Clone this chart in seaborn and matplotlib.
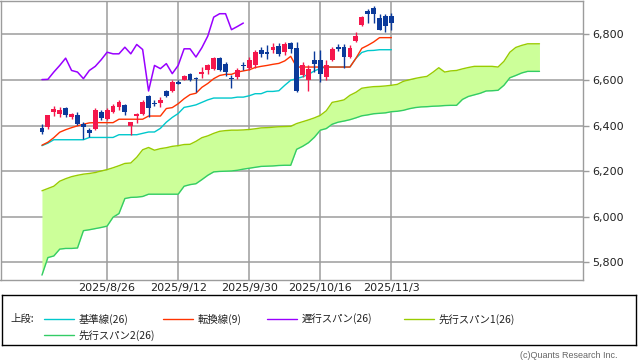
import numpy as np
import pandas as pd
import matplotlib
matplotlib.use("Agg")
import matplotlib.pyplot as plt
import seaborn as sns

# ---------------- data ----------------
date_labels = ["2025/8/26", "2025/9/12", "2025/9/30", "2025/10/16", "2025/11/3"]
date_index = [11, 23, 35, 47, 59]
y_ticks = [5800, 6000, 6200, 6400, 6600, 6800]

open_ = [6390, 6394, 6460, 6450, 6477, 6438, 6445, 6409, 6380, 6383,
         6460, 6431, 6460, 6482, 6489, 6397, 6441, 6453, 6528, 6499,
         6499, 6552, 6552, 6591, 6599, 6625, 6609, 6628, 6642, 6650,
         6696, 6669, 6610, 6613, 6667, 6652, 6664, 6730, 6722, 6733,
         6749, 6722, 6762, 6742, 6620, 6599, 6689, 6689, 6613, 6686,
         6744, 6744, 6701, 6771, 6843, 6902, 6917, 6874, 6879, 6883]
high = [6406, 6447, 6485, 6482, 6482, 6455, 6460, 6416, 6391, 6479,
        6467, 6479, 6493, 6511, 6496, 6418, 6455, 6511, 6533, 6511,
        6525, 6558, 6599, 6602, 6620, 6631, 6613, 6657, 6672, 6701,
        6701, 6679, 6620, 6651, 6677, 6699, 6730, 6743, 6752, 6761,
        6761, 6765, 6769, 6765, 6677, 6664, 6727, 6730, 6686, 6747,
        6759, 6756, 6752, 6810, 6883, 6913, 6927, 6888, 6888, 6892]
low = [6365, 6384, 6441, 6438, 6438, 6431, 6401, 6340, 6348, 6380,
       6426, 6423, 6455, 6467, 6445, 6358, 6412, 6445, 6438, 6485,
       6482, 6525, 6547, 6581, 6598, 6595, 6547, 6610, 6625, 6642,
       6639, 6616, 6567, 6603, 6642, 6642, 6651, 6699, 6694, 6717,
       6704, 6708, 6717, 6549, 6612, 6552, 6635, 6591, 6599, 6682,
       6727, 6654, 6695, 6769, 6839, 6850, 6850, 6818, 6810, 6821]
close = [6372, 6445, 6475, 6470, 6445, 6450, 6406, 6394, 6368, 6467,
         6435, 6467, 6485, 6504, 6460, 6416, 6450, 6504, 6479, 6493,
         6514, 6530, 6591, 6584, 6616, 6602, 6603, 6635, 6664, 6696,
         6642, 6635, 6606, 6642, 6660, 6689, 6722, 6715, 6715, 6744,
         6715, 6756, 6734, 6552, 6664, 6650, 6672, 6628, 6664, 6737,
         6737, 6701, 6742, 6793, 6876, 6891, 6891, 6821, 6835, 6850]

tenkan = [6314, 6327, 6347, 6371, 6382, 6391, 6399, 6406, 6412, 6413,
          6413, 6413, 6413, 6428, 6428, 6428, 6428, 6428, 6442, 6442,
          6442, 6475, 6479, 6496, 6518, 6536, 6542, 6568, 6585, 6606,
          6620, 6625, 6625, 6635, 6640, 6645, 6655, 6660, 6664, 6669,
          6673, 6684, 6704, 6657, 6657, 6657, 6657, 6657, 6657, 6657,
          6657, 6657, 6657, 6695, 6739, 6752, 6767, 6786, 6786, 6786]
kijun = [6312, 6323, 6338, 6338, 6338, 6338, 6338, 6338, 6348, 6348,
         6348, 6348, 6348, 6360, 6360, 6360, 6360, 6366, 6372, 6372,
         6388, 6415, 6436, 6453, 6480, 6485, 6491, 6502, 6513, 6521,
         6521, 6521, 6521, 6525, 6525, 6531, 6540, 6540, 6550, 6550,
         6553, 6577, 6599, 6606, 6614, 6625, 6640, 6651, 6657, 6657,
         6657, 6657, 6657, 6695, 6721, 6729, 6730, 6733, 6733, 6733]
span1 = [6114, 6124, 6134, 6156, 6167, 6176, 6182, 6187, 6190, 6194,
         6201, 6207, 6215, 6224, 6234, 6236, 6261, 6294, 6304, 6292,
         6299, 6303, 6309, 6312, 6317, 6318, 6331, 6347, 6355, 6366,
         6375, 6378, 6380, 6380, 6381, 6383, 6386, 6390, 6391, 6393,
         6395, 6396, 6397, 6409, 6417, 6425, 6434, 6445, 6465, 6502,
         6507, 6513, 6533, 6546, 6564, 6568, 6571, 6572, 6574, 6577,
         6581, 6594, 6601, 6607, 6612, 6616, 6634, 6654, 6635, 6640,
         6642, 6649, 6655, 6660, 6660, 6660, 6660, 6657, 6682, 6722,
         6743, 6752, 6759, 6759, 6759]
span2 = [5744, 5821, 5828, 5858, 5861, 5861, 5863, 5939, 5943, 5948,
         5953, 5959, 5998, 6014, 6080, 6085, 6086, 6089, 6099, 6099,
         6099, 6099, 6099, 6099, 6134, 6141, 6145, 6163, 6182, 6197,
         6199, 6200, 6201, 6204, 6209, 6213, 6217, 6221, 6222, 6223,
         6225, 6226, 6226, 6296, 6309, 6325, 6349, 6380, 6387, 6406,
         6415, 6420, 6426, 6434, 6443, 6447, 6452, 6454, 6456, 6461,
         6463, 6467, 6474, 6479, 6482, 6483, 6485, 6486, 6488, 6489,
         6489, 6515, 6528, 6535, 6542, 6552, 6553, 6555, 6577, 6610,
         6620, 6631, 6638, 6638, 6638]
lag = 25  # chikou span drawn 25 bars back

# ---------------- style ----------------
sns.set_style("white")
plt.rcParams['font.family'] = ['DejaVu Sans', 'Noto Sans CJK JP']
JP = ['Noto Sans CJK JP', 'DejaVu Sans']

C_UP = '#f5174c'
C_DN = '#0b3a9a'
C_TEN = '#ff3300'
C_KIJ = '#00c8cc'
C_CHI = '#9900ff'
C_S1 = '#99cc00'
C_S2 = '#33cc66'
C_FILL = '#ccff99'
C_GRID = '#9c9c9c'

W, H = 638, 362
fig = plt.figure(figsize=(W / 100, H / 100), dpi=100)


def fr(x0, y0, x1, y1):
    return [x0 / W, 1 - y1 / H, (x1 - x0) / W, (y1 - y0) / H]


ax = fig.add_axes(fr(0.5, 0.5, 582.7, 280))

n = len(close)
idx = np.arange(n)
idx_cloud = np.arange(len(span1))

df_cloud = pd.DataFrame({'i': idx_cloud, 's1': span1, 's2': span2})
df_main = pd.DataFrame({'i': idx, 'tenkan': tenkan, 'kijun': kijun})
df_lag = pd.DataFrame({'i': idx[:n - lag], 'chikou': close[lag:]})

# cloud
ax.fill_between(df_cloud['i'], df_cloud['s1'], df_cloud['s2'], color=C_FILL, lw=0, zorder=1)
sns.lineplot(data=df_cloud, x='i', y='s1', ax=ax, color=C_S1, lw=1.0, zorder=2)
sns.lineplot(data=df_cloud, x='i', y='s2', ax=ax, color=C_S2, lw=1.0, zorder=2)

# lines
sns.lineplot(data=df_main, x='i', y='kijun', ax=ax, color=C_KIJ, lw=1.0, zorder=3)
sns.lineplot(data=df_main, x='i', y='tenkan', ax=ax, color=C_TEN, lw=1.0, zorder=3)
sns.lineplot(data=df_lag, x='i', y='chikou', ax=ax, color=C_CHI, lw=1.1, zorder=3)

# candles
o = np.array(open_, float)
c = np.array(close, float)
hi = np.array(high, float)
lo = np.array(low, float)
cols = [C_UP if cc >= oo else C_DN for oo, cc in zip(o, c)]
ax.vlines(idx, lo, hi, colors=cols, lw=1.0, zorder=4)
bottoms = np.minimum(o, c)
heights = np.maximum(np.abs(c - o), 4.5)
ax.bar(idx, heights, bottom=bottoms, width=0.82, color=cols, lw=0, zorder=5)

# axes
ax.set_xlim(-7.0, 91.3)
ax.set_ylim(5722.5, 6949)
ax.set_xticks(date_index)
ax.set_xticklabels(date_labels)
ax.set_yticks(y_ticks)
ax.set_yticklabels([f"{v:,}" for v in y_ticks])
ax.yaxis.tick_right()
ax.set_xlabel('')
ax.set_ylabel('')
ax.grid(True, color=C_GRID, lw=1.1)
ax.set_axisbelow(True)
ax.tick_params(axis='x', length=0, pad=2.5, labelsize=8, labelcolor='#222222')
ax.tick_params(axis='y', length=4, width=1.0, color=C_GRID, pad=3, labelsize=8,
               labelcolor='#222222', right=True, left=False)
for s in ax.spines.values():
    s.set_color(C_GRID)
    s.set_linewidth(1.0)

# legend box
lax = fig.add_axes(fr(2, 295, 636, 345))
lax.set_xlim(2, 636)
lax.set_ylim(345, 295)
lax.set_xticks([])
lax.set_yticks([])
for s in lax.spines.values():
    s.set_color('black')
    s.set_linewidth(1.0)

fs = 7.5
lax.text(10, 319, "上段:", va='center', ha='left', fontsize=fs, family=JP, color='#222')
items = [
    (44, 319, C_KIJ, "基準線(26)"),
    (163, 319, C_TEN, "転換線(9)"),
    (267, 319, C_CHI, "遅行スパン(26)"),
    (404, 319, C_S1, "先行スパン1(26)"),
    (44, 335, C_S2, "先行スパン2(26)"),
]
for x0, y0, col, lab in items:
    lax.plot([x0, x0 + 30], [y0, y0], color=col, lw=1.0)
    lax.text(x0 + 35, y0, lab, va='center', ha='left', fontsize=fs, family=JP, color='#222')

fig.text(617 / W, 1 - 356 / H, "(c)Quants Research Inc.", ha='right', va='center',
         fontsize=6.5, color='#666666', family=['Liberation Sans', 'DejaVu Sans'])

fig.savefig("out.png", dpi=100)
